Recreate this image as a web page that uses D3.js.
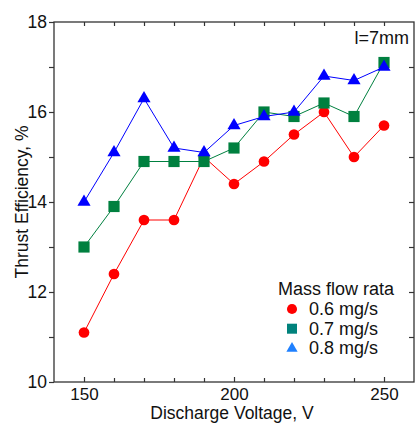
<!DOCTYPE html>
<html>
<head>
<meta charset="utf-8">
<script src="https://cdn.jsdelivr.net/npm/d3@7"></script>
<style>
  body { margin: 0; background: #fff; }
  svg { display: block; font-family: "Liberation Sans", Arial, sans-serif; }
</style>
</head>
<body>
<div id="wrapper"></div>
<script>
const voltages = [150, 160, 170, 180, 190, 200, 210, 220, 230, 240, 250];
const flow06 = [11.1, 12.4, 13.6, 13.6, 15.0, 14.4, 14.9, 15.5, 16.0, 15.0, 15.7];
const flow07 = [13.0, 13.9, 14.9, 14.9, 14.9, 15.2, 16.0, 15.9, 16.2, 15.9, 17.1];
const flow08 = [14.0, 15.1, 16.3, 15.2, 15.1, 15.7, 15.9, 16.0, 16.8, 16.7, 17.0];
const seriesNames = ["0.6 mg/s", "0.7 mg/s", "0.8 mg/s"];
const xTicks = [140, 150, 160, 170, 180, 190, 200, 210, 220, 230, 240, 250, 260];
const xLabels = [150, 200, 250];
const yTicks = [10, 11, 12, 13, 14, 15, 16, 17, 18];
const yLabels = [10, 12, 14, 16, 18];

const series = [
    { name: seriesNames[0], values: flow06, shape: "circle", color: "#ff0000", legendColor: "#ff0000" },
    { name: seriesNames[1], values: flow07, shape: "square", color: "#00803f", legendColor: "#00827c" },
    { name: seriesNames[2], values: flow08, shape: "triangle", color: "#0000ff", legendColor: "#1f80ff" }
];

let dimensions = {
    width: 415,
    height: 427,
    margin: { top: 22, right: 1, bottom: 45, left: 54 }
};
dimensions.boundedWidth = dimensions.width - dimensions.margin.left - dimensions.margin.right;
dimensions.boundedHeight = dimensions.height - dimensions.margin.top - dimensions.margin.bottom;

const xScale = d3.scaleLinear().domain([140, 260]).range([0, dimensions.boundedWidth]);
const yScale = d3.scaleLinear().domain([10, 18]).range([dimensions.boundedHeight, 0]);

const svg = d3.select("#wrapper")
    .append("svg")
    .attr("width", dimensions.width)
    .attr("height", dimensions.height);

const bounds = svg.append("g")
    .attr("transform", `translate(${dimensions.margin.left},${dimensions.margin.top})`);

// axes
const axisColor = "#333";
function styleAxis(g) {
    g.select(".domain").remove();
    g.selectAll("line").attr("stroke", axisColor).attr("stroke-width", 1.2);
    g.selectAll("text").attr("fill", "#111").style("font-size", "17.5px");
}

bounds.append("g")
    .attr("transform", `translate(0,${dimensions.boundedHeight})`)
    .call(d3.axisBottom(xScale)
        .tickValues(xTicks.slice(1, -1))
        .tickSize(-4)
        .tickPadding(6)
        .tickFormat(d => xLabels.includes(d) ? d : ""))
    .call(styleAxis)
    .call(g => g.selectAll(".tick line").attr("y2", d => xLabels.includes(d) ? -5 : -4))
    .call(g => g.selectAll("text").style("font-size", "17px"));

bounds.append("g")
    .call(d3.axisTop(xScale)
        .tickValues(xTicks.slice(1, -1))
        .tickSize(-4)
        .tickFormat(""))
    .call(styleAxis);

bounds.append("g")
    .call(d3.axisLeft(yScale)
        .tickValues(yTicks)
        .tickSize(5)
        .tickPadding(2)
        .tickFormat(d => yLabels.includes(d) ? d : ""))
    .call(styleAxis);

bounds.append("g")
    .attr("transform", `translate(${dimensions.boundedWidth},0)`)
    .call(d3.axisRight(yScale)
        .tickValues(yTicks.slice(1, -1))
        .tickSize(-5)
        .tickFormat(""))
    .call(styleAxis);

// frame
bounds.append("rect")
    .attr("width", dimensions.boundedWidth)
    .attr("height", dimensions.boundedHeight)
    .attr("fill", "none")
    .attr("stroke", axisColor)
    .attr("stroke-width", 1.3);

// axis titles
svg.append("text")
    .attr("x", dimensions.margin.left + dimensions.boundedWidth / 2 - 2)
    .attr("y", 419)
    .attr("text-anchor", "middle")
    .style("font-size", "17.5px")
    .attr("fill", "#111")
    .text("Discharge Voltage, V");

svg.append("text")
    .attr("transform", `translate(28,${dimensions.margin.top + dimensions.boundedHeight / 2}) rotate(-90)`)
    .attr("text-anchor", "middle")
    .style("font-size", "17.5px")
    .attr("fill", "#111")
    .text("Thrust Efficiency, %");

// series
const symbolFor = {
    circle: d3.symbol().type(d3.symbolCircle).size(90),
    square: d3.symbol().type(d3.symbolSquare).size(125),
    triangle: d3.symbol().type(d3.symbolTriangle).size(75)
};

const line = d3.line()
    .x((d, i) => xScale(voltages[i]))
    .y(d => yScale(d));

series.forEach(s => {
    const g = bounds.append("g");
    g.append("path")
        .datum(s.values)
        .attr("d", line)
        .attr("fill", "none")
        .attr("stroke", s.color)
        .attr("stroke-width", 1);
    g.selectAll("path.mark")
        .data(s.values)
        .join("path")
        .attr("class", "mark")
        .attr("transform", (d, i) => `translate(${xScale(voltages[i])},${yScale(d)})`)
        .attr("d", symbolFor[s.shape])
        .attr("fill", s.color);
});

// annotation
svg.append("text")
    .attr("x", 409)
    .attr("y", 44)
    .attr("text-anchor", "end")
    .style("font-size", "18px")
    .attr("fill", "#111")
    .text("l=7mm");

// legend
const legend = svg.append("g").attr("transform", "translate(278,295)");
legend.append("text")
    .style("font-size", "18px")
    .attr("fill", "#111")
    .text("Mass flow rata");

const legendSymbol = {
    circle: d3.symbol().type(d3.symbolCircle).size(80),
    square: d3.symbol().type(d3.symbolSquare).size(100),
    triangle: d3.symbol().type(d3.symbolTriangle).size(55)
};

series.forEach((s, i) => {
    const row = legend.append("g").attr("transform", `translate(0,${20 + i * 19.7})`);
    row.append("path")
        .attr("transform", "translate(14,-6)")
        .attr("d", legendSymbol[s.shape])
        .attr("fill", s.legendColor);
    row.append("text")
        .attr("x", 31)
        .style("font-size", "18px")
        .attr("fill", "#111")
        .text(s.name);
});
</script>
</body>
</html>
